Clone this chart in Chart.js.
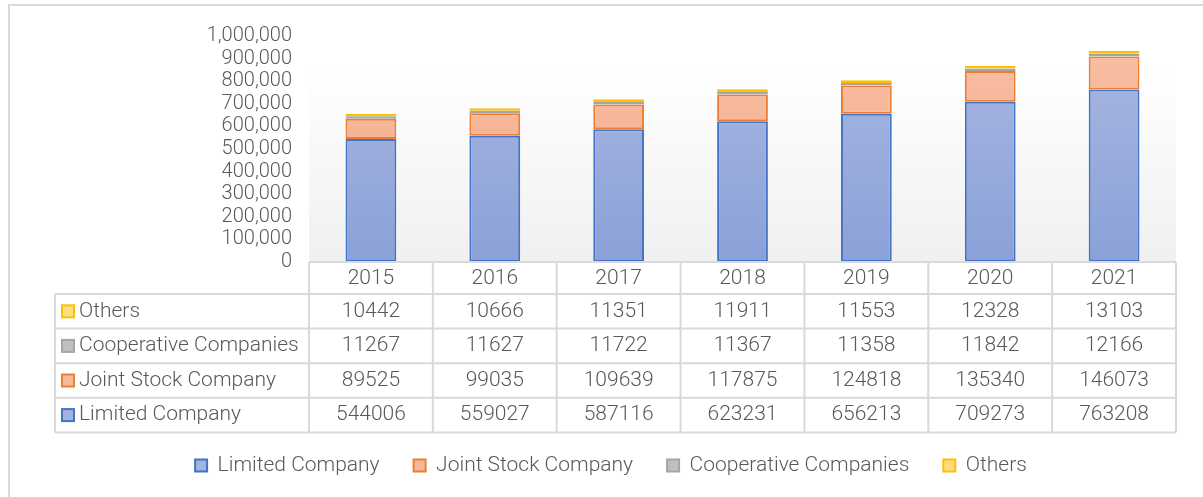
<!DOCTYPE html>
<html>
<head>
<meta charset="utf-8">
<script src="https://cdn.jsdelivr.net/npm/chart.js@4.4.1/dist/chart.umd.min.js"></script>
<style>
  html, body { margin: 0; padding: 0; background: #fff; }
  #wrap { width: 1203px; height: 497px; position: relative; }
</style>
</head>
<body>
<div id="wrap"><canvas id="chartCanvas" width="1203" height="497"></canvas></div>
<script>
// Data
const years = ['2015', '2016', '2017', '2018', '2019', '2020', '2021'];
const seriesNames = ['Limited Company', 'Joint Stock Company', 'Cooperative Companies', 'Others'];
const limitedCompany = [544006, 559027, 587116, 623231, 656213, 709273, 763208];
const jointStock = [89525, 99035, 109639, 117875, 124818, 135340, 146073];
const cooperative = [11267, 11627, 11722, 11367, 11358, 11842, 12166];
const others = [10442, 10666, 11351, 11911, 11553, 12328, 13103];

// Colours: border, gradient top, gradient bottom
const borderColors = ['#4472c4', '#ed7d31', '#a5a5a5', '#ffc000'];
const topColors = ['#aab8e1', '#f8c0a6', '#c4c4c4', '#ffe08a'];
const bottomColors = ['#8aa1d8', '#f4a682', '#b0b0b0', '#ffd45e'];
const legendFill = ['#a3b3df', '#f6b89b', '#c0c0c0', '#ffdc80'];

const textColor = '#595959';
const lineColor = '#d9d9d9';
const fontFamily = 'Roboto, "Open Sans", sans-serif';

function barGradient(i) {
    return function(context) {
        const area = context.chart.chartArea;
        if (!area) return topColors[i];
        const g = context.chart.ctx.createLinearGradient(0, area.top, 0, area.bottom);
        g.addColorStop(0, topColors[i]);
        g.addColorStop(1, bottomColors[i]);
        return g;
    };
}

const allValues = [limitedCompany, jointStock, cooperative, others];

// Plot area background, outer frame and the data table under the chart
const tablePlugin = {
    id: 'tablePlugin',
    beforeDraw(chart) {
        const ctx = chart.ctx;
        const a = chart.chartArea;
        ctx.save();
        const g = ctx.createLinearGradient(0, a.top + 30, 0, a.bottom);
        g.addColorStop(0, '#ffffff');
        g.addColorStop(1, '#f0f0f0');
        ctx.fillStyle = g;
        ctx.fillRect(a.left, a.top + 30, a.right - a.left, a.bottom - a.top - 30);
        // outer frame
        ctx.strokeStyle = lineColor;
        ctx.lineWidth = 2;
        ctx.beginPath();
        ctx.moveTo(9, 500);
        ctx.lineTo(9, 5);
        ctx.lineTo(1210, 5);
        ctx.stroke();
        ctx.restore();
    },
    afterDraw(chart) {
        const ctx = chart.ctx;
        const a = chart.chartArea;
        const xs = chart.scales.x;
        const colW = (a.right - a.left) / years.length;
        const headH = 32;
        const rowH = 34.6;
        const tableLeft = 55;
        const top = a.bottom;
        const rowsTop = top + headH;
        const bottom = rowsTop + rowH * 4;

        ctx.save();
        ctx.strokeStyle = lineColor;
        ctx.lineWidth = 2;
        ctx.beginPath();
        // horizontal lines
        ctx.moveTo(a.left, top); ctx.lineTo(a.right, top);
        for (let r = 0; r <= 4; r++) {
            const y = rowsTop + r * rowH;
            ctx.moveTo(tableLeft, y); ctx.lineTo(a.right, y);
        }
        // vertical lines
        ctx.moveTo(tableLeft, rowsTop); ctx.lineTo(tableLeft, bottom);
        for (let c = 0; c <= years.length; c++) {
            const x = a.left + c * colW;
            ctx.moveTo(x, top); ctx.lineTo(x, bottom);
        }
        ctx.stroke();

        ctx.font = '300 21px ' + fontFamily;
        ctx.fillStyle = textColor;
        ctx.textBaseline = 'middle';
        ctx.textAlign = 'center';
        years.forEach(function(y, i) {
            ctx.fillText(y, xs.getPixelForValue(i), top + headH / 2 + 1);
        });

        // rows go from last series to first
        for (let r = 0; r < 4; r++) {
            const s = 3 - r;
            const cy = rowsTop + r * rowH + rowH / 2;
            ctx.fillStyle = legendFill[s];
            ctx.fillRect(62, cy - 6, 12, 12);
            ctx.strokeStyle = borderColors[s];
            ctx.lineWidth = 2;
            ctx.strokeRect(62, cy - 6, 12, 12);
            ctx.fillStyle = textColor;
            ctx.textAlign = 'left';
            ctx.fillText(seriesNames[s], 79, cy);
            ctx.textAlign = 'center';
            allValues[s].forEach(function(v, i) {
                ctx.fillText(String(v), xs.getPixelForValue(i), cy);
            });
        }
        ctx.restore();
    }
};

const datasets = seriesNames.map(function(name, i) {
    return {
        label: name,
        data: allValues[i],
        backgroundColor: barGradient(i),
        borderColor: borderColors[i],
        borderWidth: 2,
        borderSkipped: false,
        categoryPercentage: 1,
        barPercentage: 0.41
    };
});

new Chart(document.getElementById('chartCanvas'), {
    type: 'bar',
    data: { labels: years, datasets: datasets },
    plugins: [tablePlugin],
    options: {
        responsive: false,
        animation: false,
        layout: { padding: { top: 36, right: 27, bottom: 11, left: 46 } },
        scales: {
            x: {
                stacked: true,
                grid: { display: false },
                border: { display: false },
                ticks: { display: false },
                afterFit: function(scale) { scale.height = 159; }
            },
            y: {
                stacked: true,
                min: 0,
                max: 1000000,
                grid: { display: false, drawTicks: false },
                border: { display: false },
                ticks: {
                    stepSize: 100000,
                    autoSkip: false,
                    padding: 17,
                    color: textColor,
                    font: { family: fontFamily, size: 20, weight: '300' },
                    callback: function(v) { return v.toLocaleString('en-US'); }
                },
                afterFit: function(scale) { scale.width = 263; }
            }
        },
        plugins: {
            tooltip: { enabled: false },
            legend: {
                position: 'bottom',
                labels: {
                    boxWidth: 12,
                    boxHeight: 12,
                    padding: 34,
                    color: textColor,
                    font: { family: fontFamily, size: 21, weight: '300' },
                    generateLabels: function(chart) {
                        return seriesNames.map(function(name, i) {
                            return {
                                text: name,
                                fillStyle: legendFill[i],
                                strokeStyle: borderColors[i],
                                lineWidth: 2,
                                fontColor: textColor,
                                datasetIndex: i,
                                hidden: false
                            };
                        });
                    }
                }
            }
        }
    }
});
</script>
</body>
</html>
